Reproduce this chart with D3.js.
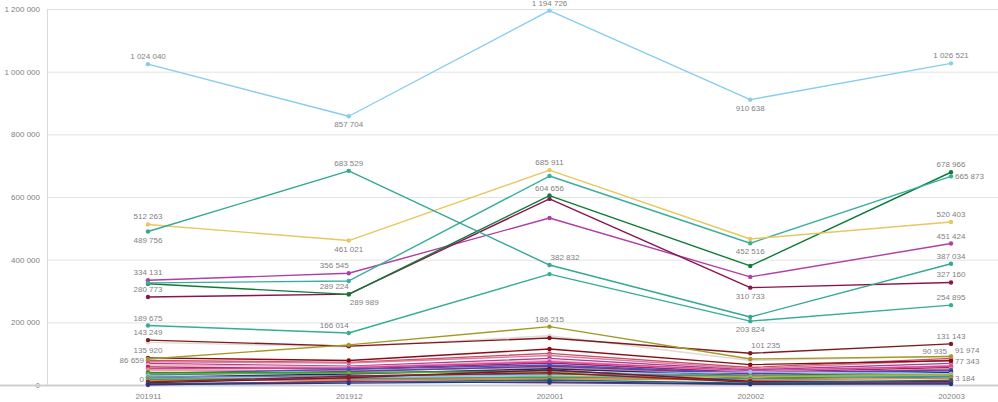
<!DOCTYPE html>
<html><head><meta charset="utf-8">
<script src="https://cdn.jsdelivr.net/npm/d3@7"></script>
<style>
html,body{margin:0;padding:0;background:#fff;}
svg{display:block;}
text{font-family:"Liberation Sans",Arial,sans-serif;font-size:8px;fill:#7f7f7f;}
</style></head>
<body><svg id="chart" width="998" height="402"></svg>
<script>
// ---- data ----
const categories = ["201911","201912","202001","202002","202003"];
const yTickValues = [0,200000,400000,600000,800000,1000000,1200000];

// main series
const seriesLightBlue = [1024040, 857704, 1194726, 910638, 1026521];
const seriesTealA     = [489756, 683529, 382832, 217000, 387034];
const seriesTealB     = [326000, 332000, 667000, 452516, 665873];
const seriesTealC     = [189675, 166014, 354000, 203824, 254895];
const seriesYellow    = [512263, 461021, 685911, 466000, 520403];
const seriesGreen     = [323000, 289224, 604656, 380000, 678966];
const seriesMaroon    = [280773, 289989, 594000, 310733, 327160];
const seriesMagenta   = [334131, 356545, 533000, 345000, 451424];
const seriesOlive     = [83000, 128000, 186215, 83000, 90935];
const seriesBrown     = [143249, 124000, 150000, 101235, 131143];
const seriesPaleGrey  = [135920, 122000, 157000, 78000, 91974];
const seriesDarkRed   = [86659, 78000, 115000, 65000, 77343];

// minor series
const seriesPinkRed   = [78000, 72000, 101000, 56000, 85000];
const seriesRose      = [74000, 70000, 94000, 52000, 80000];
const seriesPurpleMag = [69000, 60000, 85000, 48000, 69000];
const seriesLightPink = [64000, 58000, 78000, 44000, 62000];
const seriesCrimson   = [58000, 51000, 70000, 40000, 56000];
const seriesHotPink   = [52000, 55000, 74000, 46000, 60000];
const seriesSalmon    = [48000, 46000, 56000, 34000, 52000];
const seriesBlue      = [37000, 50000, 64000, 38000, 48000];
const seriesPurple    = [32000, 43000, 60000, 36000, 45000];
const seriesNavy      = [25000, 35000, 52000, 30000, 40000];
const seriesGreen2    = [40000, 40000, 45000, 22000, 30000];
const seriesLime      = [35000, 38000, 42000, 30000, 34000];
const seriesSkyBlue   = [29000, 23000, 32000, 42000, 36000];
const seriesGreyBlue  = [24000, 30000, 35000, 28000, 28000];
const seriesOchre     = [21000, 18000, 28000, 26000, 32000];
const seriesTeal2     = [18000, 20000, 24000, 20000, 25000];
const seriesOrange    = [14000, 16000, 20000, 16000, 21000];
const seriesDarkMaroon= [7000, 23000, 48000, 12000, 11000];
const seriesRedBrown  = [10000, 28000, 39000, 9000, 6000];
const seriesDarkTeal  = [4000, 10000, 16000, 6000, 15000];
const seriesPlum      = [0, 12000, 7000, 2000, 8000];
const seriesDarkBlue  = [2000, 6000, 10000, 3000, 3184];

// draw order (first = bottom)
const seriesList = [
  seriesPinkRed, seriesRose, seriesPurpleMag, seriesLightPink, seriesCrimson, seriesHotPink,
  seriesSalmon, seriesBlue, seriesPurple, seriesNavy, seriesGreen2, seriesLime, seriesSkyBlue,
  seriesGreyBlue, seriesOchre, seriesTeal2, seriesOrange, seriesDarkMaroon, seriesRedBrown,
  seriesDarkTeal, seriesPlum, seriesDarkBlue,
  seriesDarkRed, seriesPaleGrey, seriesBrown, seriesOlive,
  seriesTealC, seriesMagenta, seriesMaroon, seriesGreen, seriesTealB, seriesYellow, seriesTealA,
  seriesLightBlue
];
const seriesColors = [
  "#c8506e","#de7c98","#a8409a","#eeb0c2","#b02050","#d046a0",
  "#e89080","#3a58c8","#6a3aa0","#1f2a6a","#2e8b40","#60b040","#8ec8ea",
  "#6080b0","#c0b030","#20a0a0","#e08030","#7a1040","#8b2020",
  "#1a6a6a","#903070","#1a3a8a",
  "#8b0a14","#e4d8d8","#7a1c1c","#a39a24",
  "#36ad96","#b03ea8","#8a1450","#117a38","#3aae9c","#e6c85e","#33a892",
  "#86cdf0"
];

// value labels: [series, category index, placement]
// a = above, b = below, al/ar = above left/right, bl/br = below left/right, l/r = left/right, ul/ur = upper left/right
const valueLabels = [
  [seriesLightBlue,0,"a"],[seriesLightBlue,1,"b"],[seriesLightBlue,2,"a"],[seriesLightBlue,3,"b"],[seriesLightBlue,4,"a"],
  [seriesTealA,0,"b"],[seriesTealA,1,"a"],[seriesTealA,2,"ar"],[seriesTealA,4,"a"],
  [seriesTealB,3,"b"],[seriesTealB,4,"r"],
  [seriesYellow,0,"a"],[seriesYellow,1,"b"],[seriesYellow,2,"a"],[seriesYellow,4,"a"],
  [seriesGreen,1,"al"],[seriesGreen,2,"a"],[seriesGreen,4,"a"],
  [seriesMaroon,0,"a"],[seriesMaroon,1,"br"],[seriesMaroon,3,"b"],[seriesMaroon,4,"a"],
  [seriesMagenta,0,"a"],[seriesMagenta,1,"al"],[seriesMagenta,4,"a"],
  [seriesTealC,0,"a"],[seriesTealC,1,"al"],[seriesTealC,3,"b"],[seriesTealC,4,"a"],
  [seriesOlive,2,"a"],[seriesOlive,4,"ul"],
  [seriesBrown,0,"a"],[seriesBrown,3,"ar"],[seriesBrown,4,"a"],
  [seriesPaleGrey,0,"b"],[seriesPaleGrey,4,"ur"],
  [seriesDarkRed,0,"l"],[seriesDarkRed,4,"r"],
  [seriesPlum,0,"ul"],[seriesDarkBlue,4,"ur"]
];

// ---- chart ----
const svg = d3.select("#chart");
const plotLeft = 47, plotRight = 998, plotTop = 9, plotBottom = 385;

const x = d3.scalePoint().domain(categories).range([148, 951]);
const y = d3.scaleLinear().domain([0, 1200000]).range([plotBottom, plotTop]);
const fmt = v => d3.format(",")(v).replace(/,/g, " ");

// grid + y axis
const yAxis = svg.append("g").attr("transform", `translate(${plotLeft},0)`)
  .call(d3.axisLeft(y).tickValues(yTickValues).tickSize(-(plotRight - plotLeft)).tickPadding(7).tickFormat(fmt));
yAxis.select(".domain").remove();
yAxis.selectAll(".tick line").attr("stroke", "#e3e3e3").attr("stroke-width", 1);
yAxis.selectAll(".tick text").attr("fill", "#7f7f7f").style("font-size", "8px");

svg.append("line").attr("x1", plotLeft + 0.5).attr("x2", plotLeft + 0.5)
  .attr("y1", plotTop).attr("y2", plotBottom).attr("stroke", "#d9d9d9");
svg.append("line").attr("x1", 0).attr("x2", plotRight)
  .attr("y1", plotBottom + 0.5).attr("y2", plotBottom + 0.5).attr("stroke", "#cfcfcf").attr("stroke-width", 2);

// x axis labels
const xAxis = svg.append("g").attr("transform", `translate(0,${plotBottom})`)
  .call(d3.axisBottom(x).tickSize(0).tickPadding(8));
xAxis.select(".domain").remove();
xAxis.selectAll(".tick text").attr("fill", "#7f7f7f").style("font-size", "8px");

// lines
const line = d3.line().x((d, i) => x(categories[i])).y(d => y(d));
const gLines = svg.append("g");
seriesList.forEach((s, k) => {
  const g = gLines.append("g");
  g.append("path").attr("d", line(s)).attr("fill", "none")
    .attr("stroke", seriesColors[k]).attr("stroke-width", 1.4).attr("stroke-linejoin", "round");
  g.selectAll("circle").data(s).join("circle")
    .attr("cx", (d, i) => x(categories[i])).attr("cy", d => y(d))
    .attr("r", 2.2).attr("fill", seriesColors[k]);
});

// value labels
const gLab = svg.append("g");
valueLabels.forEach(([s, i, p]) => {
  const px = x(categories[i]), py = y(s[i]);
  const t = gLab.append("text").text(fmt(s[i]));
  const place = {
    a:  [px, py - 5, "middle"],
    b:  [px, py + 11, "middle"],
    al: [px, py - 5, "end"],
    ar: [px + 1, py - 5, "start"],
    br: [px + 1, py + 11, "start"],
    l:  [px - 4, py + 5, "end"],
    r:  [px + 4, py + 3, "start"],
    ul: [px - 4, py - 3, "end"],
    ur: [px + 4, py - 3, "start"]
  }[p];
  t.attr("x", place[0]).attr("y", place[1]).attr("text-anchor", place[2]);
});
</script></body></html>
